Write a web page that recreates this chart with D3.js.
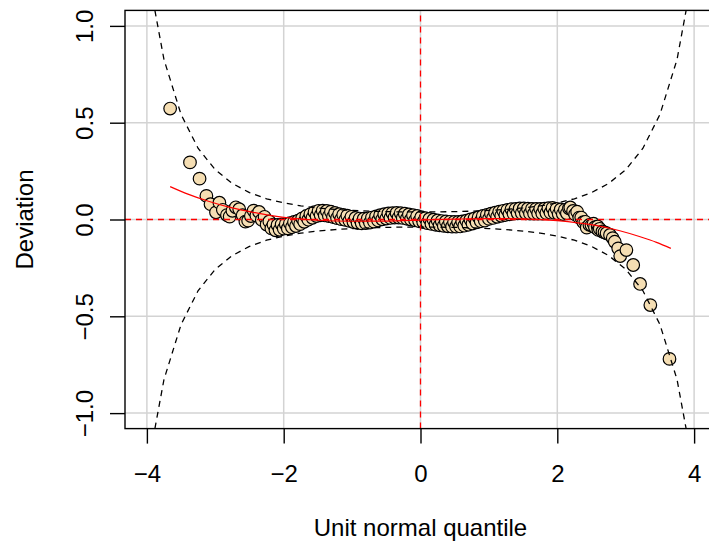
<!DOCTYPE html>
<html>
<head>
<meta charset="utf-8">
<script src="https://cdn.jsdelivr.net/npm/d3@7"></script>
<style>
body { margin: 0; background: #fff; }
text { font-family: "Liberation Sans", Arial, sans-serif; }
</style>
</head>
<body>
<svg id="chart" width="709" height="545"></svg>
<script>
// tick positions / labels
const xTicks = [-4, -2, 0, 2, 4];
const xTickLabels = ["\u22124", "\u22122", "0", "2", "4"];
const yTicks = [-1, -0.5, 0, 0.5, 1];
const yTickLabels = ["\u22121.0", "\u22120.5", "0.0", "0.5", "1.0"];

// worm points: unit normal quantile vs deviation
const pointZ = [
  -3.66, -3.37, -3.23, -3.13, -3.07, -2.99, -2.94, -2.89, -2.83, -2.79,
  -2.75, -2.70, -2.65, -2.60, -2.56, -2.52, -2.48,
  -2.44, -2.40, -2.36, -2.32, -2.28, -2.25, -2.21, -2.18, -2.15, -2.12,
  -2.09, -2.06, -2.03, -2.00, -1.97, -1.94, -1.91, -1.88, -1.85, -1.82,
  -1.79, -1.76, -1.73, -1.70, -1.67, -1.64, -1.61, -1.58, -1.55, -1.52,
  -1.49, -1.46, -1.43, -1.40, -1.37, -1.34, -1.31, -1.28, -1.25, -1.22,
  -1.19, -1.16, -1.13, -1.10, -1.07, -1.04, -1.01, -0.98, -0.95, -0.92,
  -0.89, -0.86, -0.83, -0.80, -0.77, -0.74, -0.71, -0.68, -0.65, -0.62,
  -0.59, -0.56, -0.53, -0.50, -0.47, -0.44, -0.41, -0.38, -0.35, -0.32,
  -0.29, -0.26, -0.23, -0.20, -0.17, -0.14, -0.11, -0.08, -0.05, -0.02,
  0.01, 0.04, 0.07, 0.10, 0.13, 0.16, 0.19, 0.22, 0.25, 0.28,
  0.31, 0.34, 0.37, 0.40, 0.43, 0.46, 0.49, 0.52, 0.55, 0.58,
  0.61, 0.64, 0.67, 0.70, 0.73, 0.76, 0.79, 0.82, 0.85, 0.88,
  0.91, 0.94, 0.97, 1.00, 1.03, 1.06, 1.09, 1.12, 1.15, 1.18,
  1.21, 1.24, 1.27, 1.30, 1.33, 1.36, 1.39, 1.42, 1.45, 1.48,
  1.51, 1.54, 1.57, 1.60, 1.63, 1.66, 1.69, 1.72, 1.75, 1.78,
  1.81, 1.84, 1.87, 1.90, 1.93, 1.96, 1.99, 2.02, 2.05, 2.08,
  2.11, 2.14, 2.17, 2.19, 2.23, 2.26, 2.29, 2.32, 2.35, 2.38,
  2.41, 2.43, 2.47, 2.50, 2.53, 2.55, 2.59, 2.60, 2.62, 2.66,
  2.69, 2.72, 2.77, 2.81, 2.84, 2.89, 2.92, 3.01, 3.11, 3.21,
  3.36, 3.64
];
const pointDev = [
  0.573, 0.295, 0.211, 0.122, 0.079, 0.037, 0.087, 0.050, 0.023, 0.015,
  0.045, 0.063, 0.053, 0.022, -0.011, -0.006, 0.018,
  0.046, 0.021, 0.039, -0.002, 0.014, -0.026, -0.010, -0.046, -0.026, -0.056,
  -0.028, -0.053, -0.025, -0.047, -0.024, -0.046, -0.019, -0.040, -0.013, -0.034,
  -0.006, -0.024, 0.006, -0.012, 0.018, -0.001, 0.028, 0.009, 0.038, 0.018,
  0.045, 0.022, 0.046, 0.021, 0.044, 0.018, 0.040, 0.013, 0.034, 0.007,
  0.028, 0.002, 0.024, -0.002, 0.020, -0.007, 0.014, -0.013, 0.008, -0.018,
  0.005, -0.020, 0.004, -0.019, 0.006, -0.016, 0.010, -0.011, 0.016, -0.005,
  0.022, 0.001, 0.027, 0.005, 0.031, 0.008, 0.033, 0.010, 0.034, 0.010,
  0.033, 0.008, 0.030, 0.004, 0.026, 0.000, 0.022, -0.004, 0.018, -0.009,
  0.012, -0.014, 0.007, -0.019, 0.003, -0.023, -0.001, -0.027, -0.005, -0.030,
  -0.008, -0.033, -0.010, -0.035, -0.012, -0.037, -0.013, -0.037, -0.013, -0.036,
  -0.010, -0.032, -0.006, -0.027, 0.000, -0.021, 0.006, -0.015, 0.012, -0.009,
  0.018, -0.006, 0.024, 0.003, 0.030, 0.008, 0.035, 0.014, 0.040, 0.019,
  0.045, 0.023, 0.049, 0.027, 0.053, 0.030, 0.055, 0.032, 0.057, 0.033,
  0.057, 0.032, 0.056, 0.031, 0.055, 0.031, 0.055, 0.031, 0.055, 0.031,
  0.056, 0.033, 0.058, 0.035, 0.060, 0.034, 0.055, 0.028, 0.052, 0.028,
  0.050, 0.032, 0.058, 0.062, 0.044, 0.026, 0.040, 0.010, 0.010, -0.014,
  -0.012, -0.042, -0.028, -0.030, -0.022, -0.040, -0.036, -0.054, -0.048, -0.062,
  -0.066, -0.071, -0.080, -0.096, -0.115, -0.149, -0.189, -0.158, -0.235, -0.333,
  -0.442, -0.720
];

// 95% confidence band (dashed), every 0.25
const bandZ = [
  -4, -3.75, -3.5, -3.25, -3, -2.75, -2.5, -2.25, -2, -1.75, -1.5, -1.25, -1, -0.75, -0.5, -0.25,
  0, 0.25, 0.5, 0.75, 1, 1.25, 1.5, 1.75, 2, 2.25, 2.5, 2.75, 3, 3.25, 3.5, 3.75, 4
];
const bandUpper = [
  1.303, 0.826, 0.542, 0.367, 0.257, 0.186, 0.139, 0.107, 0.0856, 0.0704, 0.0597, 0.0522, 0.0468, 0.0431, 0.0407, 0.0393,
  0.0388, 0.0393, 0.0407, 0.0431, 0.0468, 0.0522, 0.0597, 0.0704, 0.0856, 0.107, 0.139, 0.186, 0.257, 0.367, 0.542, 0.826, 1.303
];
const bandLower = [
  -1.303, -0.826, -0.542, -0.367, -0.257, -0.186, -0.139, -0.107, -0.0856, -0.0704, -0.0597, -0.0522, -0.0468, -0.0431, -0.0407, -0.0393,
  -0.0388, -0.0393, -0.0407, -0.0431, -0.0468, -0.0522, -0.0597, -0.0704, -0.0856, -0.107, -0.139, -0.186, -0.257, -0.367, -0.542, -0.826, -1.303
];

// fitted cubic (red)
const fitZ = [-3.66, -3.4, -3.1, -2.8, -2.5, -2.2, -2.0, -1.5, -1.0, -0.5, 0, 0.5, 1.0, 1.5, 2.0, 2.3, 2.6, 2.9, 3.2, 3.45, 3.66];
const fitDev = [0.170, 0.131, 0.094, 0.064, 0.041, 0.021, 0.011, -0.004, -0.009, -0.008, -0.003, 0.002, 0.005, 0.003, -0.006, -0.017, -0.033, -0.057, -0.088, -0.118, -0.149];

const width = 709, height = 545;
const margin = {top: 10.4, left: 125, bottom: 545 - 428.6};
const plotRight = 716;

const svg = d3.select("#chart");

const x = d3.scaleLinear()
    .domain([-4.32, 4.32])
    .range([margin.left, plotRight]);
const y = d3.scaleLinear()
    .domain([-1.08, 1.08])
    .range([height - margin.bottom, margin.top]);

svg.append("defs").append("clipPath")
    .attr("id", "plotclip")
    .append("rect")
    .attr("x", x(-4.32)).attr("y", y(1.08))
    .attr("width", x(4.32) - x(-4.32))
    .attr("height", y(-1.08) - y(1.08));

const plot = svg.append("g").attr("clip-path", "url(#plotclip)");

// grid
plot.append("g")
    .selectAll("line")
    .data(xTicks)
    .join("line")
    .attr("x1", d => x(d)).attr("x2", d => x(d))
    .attr("y1", y(-1.08)).attr("y2", y(1.08))
    .attr("stroke", "#d3d3d3")
    .attr("stroke-width", 1.5);
plot.append("g")
    .selectAll("line")
    .data(yTicks)
    .join("line")
    .attr("y1", d => y(d)).attr("y2", d => y(d))
    .attr("x1", x(-4.32)).attr("x2", x(4.32))
    .attr("stroke", "#d3d3d3")
    .attr("stroke-width", 1.5);

// points
plot.append("g")
    .selectAll("circle")
    .data(d3.range(pointZ.length))
    .join("circle")
    .attr("cx", i => x(pointZ[i]))
    .attr("cy", i => y(pointDev[i]))
    .attr("r", 6.3)
    .attr("fill", "#f5deb3")
    .attr("stroke", "#000")
    .attr("stroke-width", 1.2);

// confidence bands
const bandLine = d3.line()
    .x(i => x(bandZ[i]));
[bandUpper, bandLower].forEach(arr => {
  plot.append("path")
      .attr("d", bandLine.y(i => y(arr[i]))(d3.range(bandZ.length)))
      .attr("fill", "none")
      .attr("stroke", "#000")
      .attr("stroke-width", 1.3)
      .attr("stroke-dasharray", "6,5");
});

// reference lines
plot.append("line")
    .attr("x1", x(-4.32)).attr("x2", x(4.32))
    .attr("y1", y(0)).attr("y2", y(0))
    .attr("stroke", "red").attr("stroke-width", 1.3)
    .attr("stroke-dasharray", "6,5");
plot.append("line")
    .attr("x1", x(0)).attr("x2", x(0))
    .attr("y1", y(-1.08)).attr("y2", y(1.08))
    .attr("stroke", "red").attr("stroke-width", 1.3)
    .attr("stroke-dasharray", "6,5");

// fitted curve
plot.append("path")
    .attr("d", d3.line()
        .x(i => x(fitZ[i]))
        .y(i => y(fitDev[i]))
        .curve(d3.curveMonotoneX)(d3.range(fitZ.length)))
    .attr("fill", "none")
    .attr("stroke", "red")
    .attr("stroke-width", 1.2);

// box
svg.append("rect")
    .attr("x", x(-4.32)).attr("y", y(1.08))
    .attr("width", x(4.32) - x(-4.32))
    .attr("height", y(-1.08) - y(1.08))
    .attr("fill", "none")
    .attr("stroke", "#000")
    .attr("stroke-width", 1.4);

// axes
const fontSize = 24;
const xAxis = svg.append("g")
    .attr("transform", `translate(0,${y(-1.08)})`)
    .call(d3.axisBottom(x).tickValues(xTicks).tickSize(15).tickSizeOuter(0)
        .tickFormat((d, i) => xTickLabels[i]));
xAxis.select(".domain").remove();
xAxis.selectAll("line").attr("stroke", "#000").attr("stroke-width", 1.4);
xAxis.selectAll("text")
    .attr("y", 53.5).attr("dy", 0)
    .attr("fill", "#000")
    .style("font-size", fontSize + "px")
    .style("font-family", "'Liberation Sans', Arial, sans-serif");

const yAxis = svg.append("g")
    .attr("transform", `translate(${x(-4.32)},0)`)
    .call(d3.axisLeft(y).tickValues(yTicks).tickSize(15).tickSizeOuter(0)
        .tickFormat((d, i) => yTickLabels[i]));
yAxis.select(".domain").remove();
yAxis.selectAll("line").attr("stroke", "#000").attr("stroke-width", 1.4);
yAxis.selectAll("text")
    .attr("transform", "rotate(-90)")
    .attr("x", 0).attr("y", -32).attr("dy", 0)
    .attr("text-anchor", "middle")
    .attr("fill", "#000")
    .style("font-size", fontSize + "px")
    .style("font-family", "'Liberation Sans', Arial, sans-serif");

// axis titles
svg.append("text")
    .attr("x", (x(-4.32) + x(4.32)) / 2)
    .attr("y", 536)
    .attr("text-anchor", "middle")
    .style("font-size", fontSize + "px")
    .text("Unit normal quantile");
svg.append("text")
    .attr("transform", `translate(33,${(y(-1.08) + y(1.08)) / 2}) rotate(-90)`)
    .attr("text-anchor", "middle")
    .style("font-size", fontSize + "px")
    .text("Deviation");
</script>
</body>
</html>
